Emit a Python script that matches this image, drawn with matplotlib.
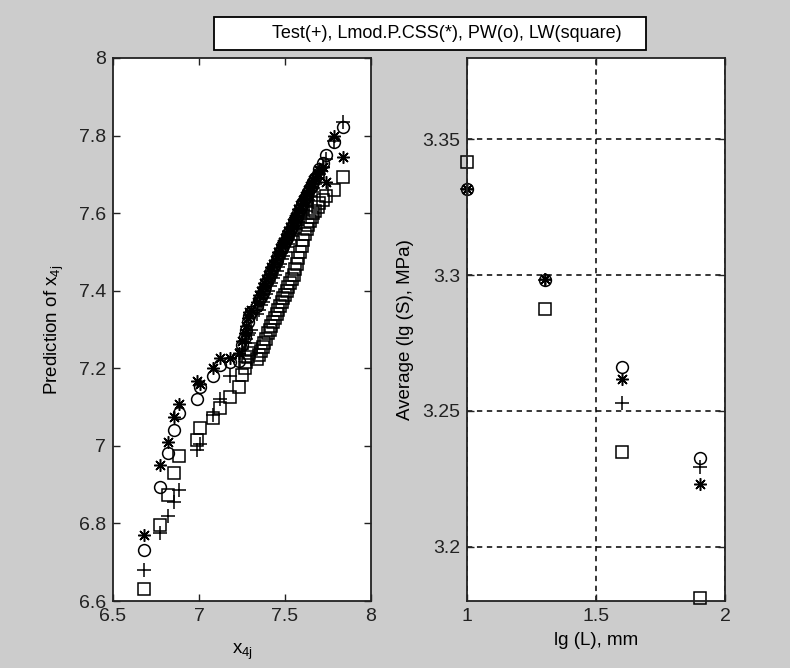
import matplotlib
matplotlib.use("Agg")
import matplotlib.pyplot as plt
from matplotlib.patches import Rectangle

plt.rcParams['font.family'] = ['Liberation Sans', 'DejaVu Sans']
plt.rcParams['mathtext.fontset'] = 'custom'
plt.rcParams['mathtext.rm'] = 'Liberation Sans'
plt.rcParams['mathtext.it'] = 'Liberation Sans'

# ---------------- left panel data ----------------
x_obs = [6.68, 6.775, 6.82, 6.855, 6.885, 6.99, 7.005, 7.08, 7.12, 7.18,
         7.235, 7.25, 7.265, 7.275, 7.285, 7.29, 7.30,
         7.34, 7.35, 7.362, 7.37, 7.38, 7.392, 7.40, 7.412, 7.42, 7.433,
         7.44, 7.452, 7.46, 7.47, 7.482, 7.49, 7.50, 7.512, 7.52, 7.53,
         7.54, 7.55, 7.558, 7.57, 7.578, 7.59, 7.60, 7.607, 7.618, 7.625,
         7.635, 7.645, 7.655, 7.665, 7.675, 7.69, 7.70, 7.72, 7.74, 7.785, 7.835]
pred_lmod = [6.771, 6.951, 7.011, 7.075, 7.108, 7.168, 7.16, 7.20, 7.226, 7.226,
             7.24, 7.27, 7.29, 7.31, 7.33, 7.345, 7.35,
             7.37, 7.39, 7.40, 7.41, 7.42, 7.43, 7.44, 7.45, 7.46, 7.47,
             7.48, 7.49, 7.50, 7.51, 7.52, 7.525, 7.535, 7.545, 7.555, 7.565,
             7.575, 7.585, 7.59, 7.60, 7.61, 7.62, 7.625, 7.635, 7.645, 7.65,
             7.66, 7.67, 7.675, 7.685, 7.69, 7.70, 7.71, 7.72, 7.68, 7.80, 7.746]
pred_pw = [6.731, 6.895, 6.981, 7.04, 7.086, 7.12, 7.151, 7.18, 7.209, 7.215,
           7.22, 7.26, 7.28, 7.30, 7.32, 7.335, 7.345,
           7.36, 7.375, 7.385, 7.395, 7.405, 7.42, 7.43, 7.44, 7.45, 7.46,
           7.47, 7.48, 7.49, 7.50, 7.51, 7.515, 7.525, 7.535, 7.545, 7.555,
           7.565, 7.575, 7.58, 7.59, 7.60, 7.61, 7.62, 7.63, 7.64, 7.645,
           7.655, 7.665, 7.67, 7.68, 7.69, 7.70, 7.715, 7.73, 7.75, 7.784, 7.823]
pred_lw = [6.632, 6.795, 6.874, 6.93, 6.974, 7.015, 7.046, 7.071, 7.097, 7.127,
           7.153, 7.183, 7.20, 7.215, 7.23, 7.24, 7.25,
           7.225, 7.235, 7.245, 7.255, 7.265, 7.275, 7.29, 7.30, 7.31, 7.32,
           7.33, 7.34, 7.35, 7.36, 7.37, 7.38, 7.39, 7.40, 7.41, 7.42,
           7.43, 7.44, 7.455, 7.47, 7.485, 7.50, 7.515, 7.53, 7.545, 7.56,
           7.57, 7.58, 7.59, 7.60, 7.605, 7.615, 7.625, 7.635, 7.645, 7.66, 7.692]

# ---------------- right panel data ----------------
lg_L = [1.0, 1.301, 1.602, 1.903]
avg_test = [3.3318, 3.2982, 3.2531, 3.2295]
avg_lmod = [3.3318, 3.2985, 3.2617, 3.2231]
avg_pw = [3.3318, 3.2982, 3.2663, 3.2326]
avg_lw = [3.3416, 3.2874, 3.2348, 3.1810]

legend_text = "Test(+), Lmod.P.CSS(*), PW(o), LW(square)"

BG = '#cccccc'
FS = 13.5
fig = plt.figure(figsize=(7.9, 6.68), dpi=100, facecolor=BG)

W, H = 790.0, 668.0
def axrect(l, t, r, b):
    return [l / W, 1 - b / H, (r - l) / W, (b - t) / H]

ax1 = fig.add_axes(axrect(113, 58, 371, 601))
ax2 = fig.add_axes(axrect(467, 58, 725, 601))

star = (8, 2, 0)
mkw = dict(linestyle='none', color='black', mfc='none', mec='black', mew=1.1)

ax1.plot(x_obs, x_obs, marker='+', ms=10, **mkw)
ax1.plot(x_obs, pred_lmod, marker=star, ms=9, **mkw)
ax1.plot(x_obs, pred_pw, marker='o', ms=8.5, **mkw)
ax1.plot(x_obs, pred_lw, marker='s', ms=8.5, **mkw)
ax1.set_xlim(6.5, 8)
ax1.set_ylim(6.6, 8)
ax1.set_xticks([6.5, 7, 7.5, 8])
ax1.set_xticklabels(['6.5', '7', '7.5', '8'])
ax1.set_yticks([6.6, 6.8, 7, 7.2, 7.4, 7.6, 7.8, 8])
ax1.set_yticklabels(['6.6', '6.8', '7', '7.2', '7.4', '7.6', '7.8', '8'])
ax1.set_xlabel(r'x$_{\mathrm{4j}}$', fontsize=FS, labelpad=12)
ax1.set_ylabel(r'Prediction of x$_{\mathrm{4j}}$', fontsize=FS, labelpad=9)

ax2.plot(lg_L, avg_test, marker='+', ms=10, **mkw)
ax2.plot(lg_L, avg_lmod, marker=star, ms=9, **mkw)
ax2.plot(lg_L, avg_pw, marker='o', ms=8.5, **mkw)
ax2.plot(lg_L, avg_lw, marker='s', ms=8.5, **mkw)
ax2.set_xlim(1, 2)
ax2.set_ylim(3.18, 3.38)
ax2.set_xticks([1, 1.5, 2])
ax2.set_xticklabels(['1', '1.5', '2'])
ax2.set_yticks([3.2, 3.25, 3.3, 3.35])
ax2.set_yticklabels(['3.2', '3.25', '3.3', '3.35'])
ax2.grid(True, color='black', linestyle=(0, (3.5, 3)), linewidth=1.1)
ax2.set_xlabel('lg (L), mm', fontsize=FS, labelpad=5)
ax2.set_ylabel('Average (lg (S), MPa)', fontsize=FS, labelpad=6)

for ax in (ax1, ax2):
    ax.set_facecolor('white')
    for s in ax.spines.values():
        s.set_linewidth(1.3)
        s.set_color('#222222')
    ax.tick_params(direction='in', length=5, width=1.0, top=True, right=True,
                   labelsize=14, pad=5, colors='#222222')
    for c in ax.get_lines():
        c.set_clip_on(False)

# legend-like box
fig.add_artist(Rectangle((214 / W, 1 - 50 / H), (646 - 214) / W, 33 / H,
                         transform=fig.transFigure, facecolor='white',
                         edgecolor='black', linewidth=1.3))
fig.text(622 / W, 1 - 33.5 / H, legend_text, ha='right', va='center', fontsize=13)

fig.savefig('out.png', dpi=100, facecolor=BG)
